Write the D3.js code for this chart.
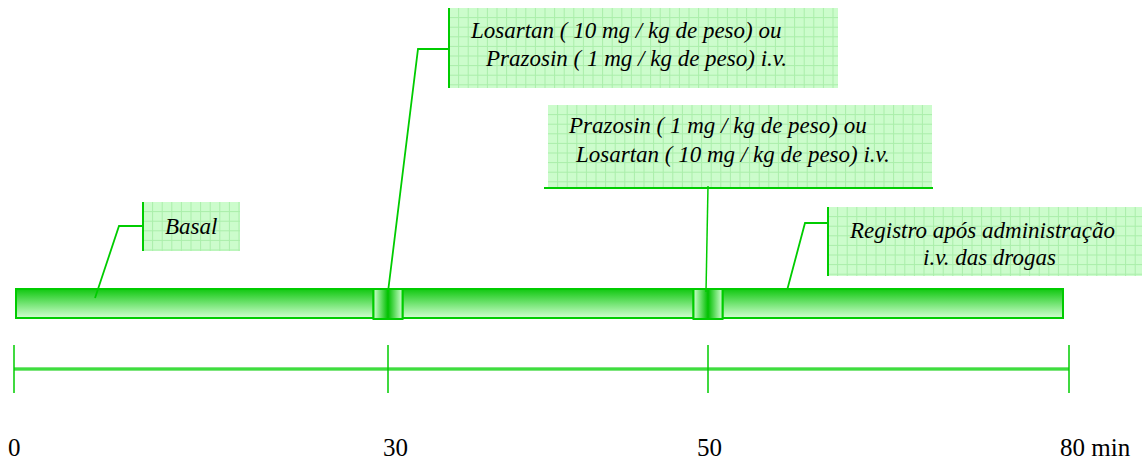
<!DOCTYPE html>
<html>
<head>
<meta charset="utf-8">
<script src="https://cdn.jsdelivr.net/npm/d3@7"></script>
<style>
  html, body { margin: 0; padding: 0; background: #fff; }
  svg { display: block; }
</style>
</head>
<body>
<div id="content"></div>
<script>
// timeline data (minutes)
var tickValues = [0, 30, 50, 80];
var tickLabels = ["0", "30", "50", "80 min"];
var segments = [[0, 30], [30, 50], [50, 80]];
var injectionTimes = [30, 50];
var calloutTimes = [6.5, 30, 50, 56.6];
var calloutText = [
  ["Basal"],
  ["Losartan ( 10 mg / kg de peso) ou", "Prazosin ( 1 mg / kg de peso) i.v."],
  ["Prazosin ( 1 mg / kg de peso) ou", "Losartan ( 10 mg / kg de peso) i.v."],
  ["Registro após administração", "i.v. das drogas"]
];

var width = 1147, height = 464;
var green = "#00cc00";
var serif = "'Liberation Serif', 'Times New Roman', Tinos, serif";

var svg = d3.select("#content")
  .append("svg")
  .attr("width", width)
  .attr("height", height);

// the time axis is not proportional in the original, so piecewise scale
var x = d3.scaleLinear().domain(tickValues).range([14, 388, 708, 1069]);

var defs = svg.append("defs");

var barGrad = defs.append("linearGradient")
  .attr("id", "barGrad").attr("x1", 0).attr("y1", 0).attr("x2", 0).attr("y2", 1);
barGrad.append("stop").attr("offset", "0%").attr("stop-color", "#11c811");
barGrad.append("stop").attr("offset", "100%").attr("stop-color", "#d2ffd2");

var blockGrad = defs.append("linearGradient")
  .attr("id", "blockGrad").attr("x1", 0).attr("y1", 0).attr("x2", 1).attr("y2", 0);
blockGrad.append("stop").attr("offset", "0%").attr("stop-color", "#d2ffd2");
blockGrad.append("stop").attr("offset", "50%").attr("stop-color", "#00c000");
blockGrad.append("stop").attr("offset", "100%").attr("stop-color", "#d2ffd2");

//////////////////////////////////////////////
// bar

var barTop = 289, barH = 29, blockHalf = 14.5;

svg.selectAll(".seg")
  .data(segments)
  .join("rect")
    .attr("class", "seg")
    .attr("x", (d, i) => i == 0 ? x(d[0]) + 2 : x(d[0]) + blockHalf)
    .attr("y", barTop)
    .attr("width", (d, i) => {
      var a = i == 0 ? x(d[0]) + 2 : x(d[0]) + blockHalf;
      var b = i == segments.length - 1 ? x(d[1]) - 6 : x(d[1]) - blockHalf;
      return b - a;
    })
    .attr("height", barH)
    .attr("fill", "url(#barGrad)")
    .attr("stroke", green)
    .attr("stroke-width", 2);

svg.selectAll(".block")
  .data(injectionTimes)
  .join("rect")
    .attr("class", "block")
    .attr("x", (d) => x(d) - blockHalf)
    .attr("y", barTop)
    .attr("width", blockHalf * 2)
    .attr("height", barH + 1)
    .attr("fill", "url(#blockGrad)")
    .attr("stroke", green)
    .attr("stroke-width", 2);

//////////////////////////////////////////////
// callouts

// box layout: rect, which side gets the green rule, elbow of leader, text line positions
var boxes = [
  {x: 143, y: 202, w: 97, h: 49, side: "left", elbow: [119, 226], tx: [165], ty: [234], leaderY: 298},
  {x: 449, y: 8, w: 389, h: 80, side: "left", elbow: [418, 49], tx: [471, 486], ty: [38, 66], leaderY: 292},
  {x: 548, y: 105, w: 384, h: 82, side: "bottom", elbow: null, tx: [569, 576], ty: [133, 162], leaderY: 292},
  {x: 828, y: 207, w: 314, h: 69, side: "left", elbow: [805, 223], tx: [850, 923], ty: [238, 265], leaderY: 289}
];
var cell = 9.6;

boxes.forEach(function (b, i) {
  var g = svg.append("g").attr("class", "callout");

  g.append("rect")
    .attr("x", b.x).attr("y", b.y).attr("width", b.w).attr("height", b.h)
    .attr("fill", "#ccfccc");

  // grid paper look
  g.selectAll(".gv")
    .data(d3.range(b.x + cell, b.x + b.w, cell))
    .join("line")
      .attr("x1", (d) => d).attr("x2", (d) => d)
      .attr("y1", b.y).attr("y2", b.y + b.h)
      .attr("stroke", "#aaeeaa").attr("stroke-width", 1);
  g.selectAll(".gh")
    .data(d3.range(b.y + cell, b.y + b.h, cell))
    .join("line")
      .attr("y1", (d) => d).attr("y2", (d) => d)
      .attr("x1", b.x).attr("x2", b.x + b.w)
      .attr("stroke", "#aaeeaa").attr("stroke-width", 1);

  var ax = x(calloutTimes[i]);
  if (b.side == "left") {
    g.append("line")
      .attr("x1", b.x).attr("x2", b.x).attr("y1", b.y).attr("y2", b.y + b.h)
      .attr("stroke", green).attr("stroke-width", 2);
    g.append("polyline")
      .attr("points", [[b.x, b.elbow[1]], b.elbow, [ax, b.leaderY]].join(" "))
      .attr("fill", "none").attr("stroke", green).attr("stroke-width", 1.8);
  } else {
    var ly = b.y + b.h + 1;
    g.append("line")
      .attr("x1", b.x - 4).attr("x2", b.x + b.w + 1).attr("y1", ly).attr("y2", ly)
      .attr("stroke", green).attr("stroke-width", 2);
    g.append("line")
      .attr("x1", ax).attr("x2", ax - 2).attr("y1", ly - 2).attr("y2", b.leaderY)
      .attr("stroke", green).attr("stroke-width", 1.5);
  }

  g.selectAll("text")
    .data(calloutText[i])
    .join("text")
      .attr("class", "label")
      .attr("x", (d, j) => b.tx[j])
      .attr("y", (d, j) => b.ty[j])
      .style("font-family", serif)
      .style("font-style", "italic")
      .style("font-size", "23px")
      .attr("fill", "#000")
      .text((d) => d);
});

//////////////////////////////////////////////
// time axis

var axisY = 369;

svg.append("line")
  .attr("x1", x(0)).attr("x2", x(80)).attr("y1", axisY).attr("y2", axisY)
  .attr("stroke", green).attr("stroke-width", 3);
svg.append("line")
  .attr("x1", x(0)).attr("x2", x(80)).attr("y1", axisY).attr("y2", axisY)
  .attr("stroke", "#7cf07c").attr("stroke-width", 1);

svg.selectAll(".tick")
  .data(tickValues)
  .join("line")
    .attr("class", "tick")
    .attr("x1", (d) => x(d)).attr("x2", (d) => x(d))
    .attr("y1", 345).attr("y2", 393)
    .attr("stroke", green).attr("stroke-width", 1.5);

svg.selectAll(".tickLabel")
  .data(tickValues)
  .join("text")
    .attr("class", "tickLabel label")
    .attr("x", (d, i) => x(d) + [-6, -5, -11, -9][i])
    .attr("y", 456)
    .style("font-family", serif)
    .style("font-size", "25px")
    .attr("fill", "#000")
    .text((d, i) => tickLabels[i]);

// make sure the serif face is picked up once it is ready
if (document.fonts && document.fonts.load) {
  Promise.all([
    document.fonts.load("italic 23px 'Liberation Serif'"),
    document.fonts.load("25px 'Liberation Serif'")
  ]).then(function () {
    svg.selectAll(".label").style("font-family", "'Liberation Serif'");
  });
}
</script>
</body>
</html>
